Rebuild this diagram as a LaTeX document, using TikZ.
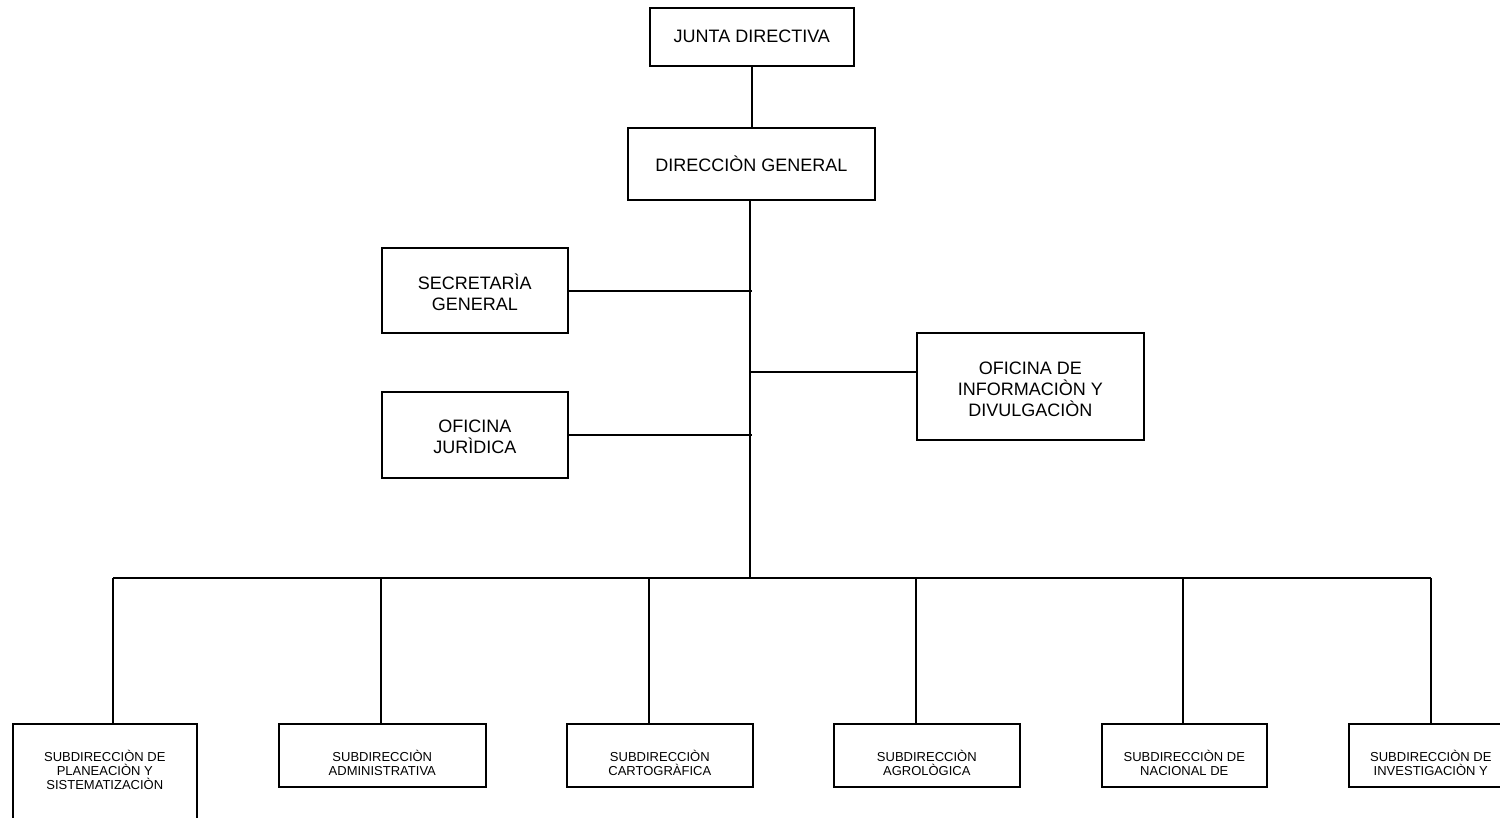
\documentclass[tikz,border=0pt]{standalone}
\usepackage{fontspec}
\setmainfont{Liberation Sans}
\begin{document}
\begin{tikzpicture}[x=1pt,y=-1pt,line width=1.6pt,
  box/.style={draw,line width=1.6pt,inner sep=0pt,anchor=north west,align=center,
              font=\fontsize{18}{21}\selectfont},
  boxtext/.style={inner sep=0pt,align=center,font=\fontsize{18}{21}\selectfont},
  subbox/.style={draw,line width=1.6pt,inner sep=0pt,anchor=north west,minimum height=63pt},
  subtext/.style={inner sep=0pt,anchor=north,align=center,font=\fontsize{13}{14.3}\selectfont}]
\useasboundingbox (0,0) rectangle (1500,817);
\fill[white] (0,0) rectangle (1500,817);
\clip (0,0) rectangle (1500,817);

% upper levels
\node[box,minimum width=204pt,minimum height=58pt] (junta) at (649,7) {JUNTA DIRECTIVA};
\node[box,minimum width=247pt,minimum height=72pt] (dir) at (627,127) {DIRECCIÒN GENERAL};
\node[box,minimum width=186pt,minimum height=85pt] (sec) at (381,247) {};
\node[box,minimum width=186pt,minimum height=86pt] (jur) at (381,391) {};
\node[box,minimum width=227pt,minimum height=107pt] (info) at (916,332) {};
\node[boxtext] (sect) at ([yshift=-1.5pt]sec.center) {SECRETARÌA\\GENERAL};
\node[boxtext] (jurt) at ([yshift=-1.5pt]jur.center) {OFICINA\\JURÌDICA};
\node[boxtext] (infot) at ([yshift=-2.5pt]info.center) {OFICINA DE\\INFORMACIÒN Y\\DIVULGACIÒN};

% subdirections
\node[subbox,minimum width=184pt,minimum height=120pt] (b1) at (12,723) {};
\node[subbox,minimum width=207pt] (b2) at (278,723) {};
\node[subbox,minimum width=186pt] (b3) at (566,723) {};
\node[subbox,minimum width=186pt] (b4) at (833,723) {};
\node[subbox,minimum width=165pt] (b5) at (1101,723) {};
\node[subbox,minimum width=164pt] (b6) at (1348,723) {};

\node[subtext] (t1) at (b1.north |- 0,749) {SUBDIRECCIÒN DE\\PLANEACIÒN Y\\SISTEMATIZACIÒN};
\node[subtext] (t2) at (b2.north |- 0,749) {SUBDIRECCIÒN\\ADMINISTRATIVA};
\node[subtext] (t3) at (b3.north |- 0,749) {SUBDIRECCIÒN\\CARTOGRÀFICA};
\node[subtext] (t4) at (b4.north |- 0,749) {SUBDIRECCIÒN\\AGROLÒGICA};
\node[subtext] (t5) at (b5.north |- 0,749) {SUBDIRECCIÒN DE\\NACIONAL DE};
\node[subtext] (t6) at (b6.north |- 0,749) {SUBDIRECCIÒN DE\\INVESTIGACIÒN Y};

% trunk and branch points
\coordinate (tb) at (750,578);
\coordinate (sj) at (752,291);
\coordinate (jj) at (752,435);
\coordinate (ib) at (750,372);
\coordinate (d1) at (113,578);
\coordinate (d2) at (381,578);
\coordinate (d3) at (649,578);
\coordinate (d4) at (916,578);
\coordinate (d5) at (1183,578);
\coordinate (d6) at (1431,578);

\draw (junta.south) -- (junta.south |- dir.north);
\draw (dir.south -| tb) -- (tb);
\draw (sec.east |- sj) -- (sj);
\draw (jur.east |- jj) -- (jj);
\draw (ib) -- (ib -| info.west);
\draw (d1) -- (d6);
\foreach \i in {1,...,6} {\draw (d\i) -- (d\i |- b\i.north);}
\end{tikzpicture}
\end{document}
